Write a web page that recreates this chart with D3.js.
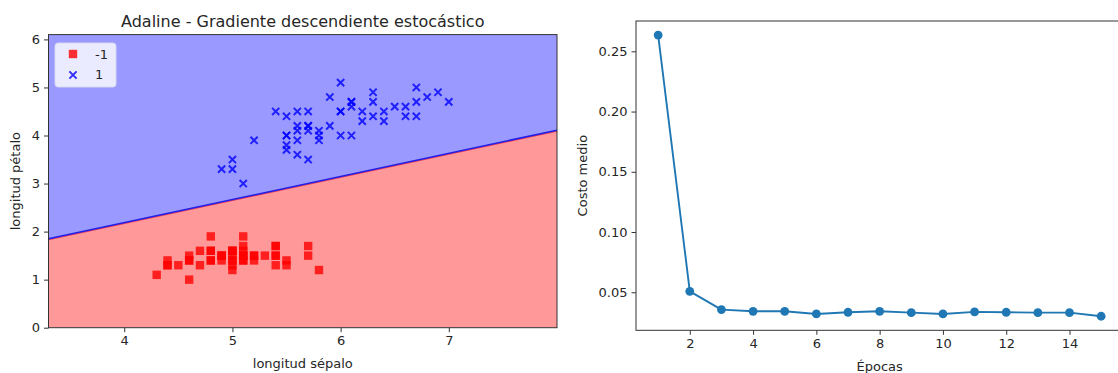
<!DOCTYPE html>
<html>
<head>
<meta charset="utf-8">
<script src="https://cdn.jsdelivr.net/npm/d3@7"></script>
<style>
  body { margin: 0; background: #fff; }
  text { font-family: "DejaVu Sans", sans-serif; fill: #262626; }
</style>
</head>
<body>
<div id="chart"></div>
<script>
// iris, first 100 rows: sepal length / petal length
const setosaSepal = [5.1, 4.9, 4.7, 4.6, 5.0, 5.4, 4.6, 5.0, 4.4, 4.9, 5.4, 4.8, 4.8, 4.3, 5.8, 5.7, 5.4, 5.1, 5.7, 5.1,
  5.4, 5.1, 4.6, 5.1, 4.8, 5.0, 5.0, 5.2, 5.2, 4.7, 4.8, 5.4, 5.2, 5.5, 4.9, 5.0, 5.5, 4.9, 4.4, 5.1,
  5.0, 4.5, 4.4, 5.0, 5.1, 4.8, 5.1, 4.6, 5.3, 5.0];
const setosaPetal = [1.4, 1.4, 1.3, 1.5, 1.4, 1.7, 1.4, 1.5, 1.4, 1.5, 1.5, 1.6, 1.4, 1.1, 1.2, 1.5, 1.3, 1.4, 1.7, 1.5,
  1.7, 1.5, 1.0, 1.7, 1.9, 1.6, 1.6, 1.5, 1.4, 1.6, 1.6, 1.5, 1.5, 1.4, 1.5, 1.2, 1.3, 1.5, 1.3, 1.5,
  1.3, 1.3, 1.3, 1.6, 1.9, 1.4, 1.6, 1.4, 1.5, 1.4];
const versiSepal = [7.0, 6.4, 6.9, 5.5, 6.5, 5.7, 6.3, 4.9, 6.6, 5.2, 5.0, 5.9, 6.0, 6.1, 5.6, 6.7, 5.6, 5.8, 6.2, 5.6,
  5.9, 6.1, 6.3, 6.1, 6.4, 6.6, 6.8, 6.7, 6.0, 5.7, 5.5, 5.5, 5.8, 6.0, 5.4, 6.0, 6.7, 6.3, 5.6, 5.5,
  5.5, 6.1, 5.8, 5.0, 5.6, 5.7, 5.7, 6.2, 5.1, 5.7];
const versiPetal = [4.7, 4.5, 4.9, 4.0, 4.6, 4.5, 4.7, 3.3, 4.6, 3.9, 3.5, 4.2, 4.0, 4.7, 3.6, 4.4, 4.5, 4.1, 4.5, 3.9,
  4.8, 4.0, 4.9, 4.7, 4.3, 4.4, 4.8, 5.0, 4.5, 3.5, 3.8, 3.7, 3.9, 5.1, 4.5, 4.5, 4.7, 4.4, 4.1, 4.0,
  4.4, 4.6, 4.0, 3.3, 4.2, 4.2, 4.2, 4.3, 3.0, 4.1];
const classLabels = ['-1', '1'];
// decision boundary: petal = b0 + b1 * sepal
const boundary = [0.263, 0.481];

const epochs = d3.range(1, 16);
const avgCost = [0.2635, 0.0508, 0.0356, 0.0342, 0.0342, 0.0320, 0.0334, 0.0342, 0.0331, 0.0320,
  0.0337, 0.0334, 0.0331, 0.0331, 0.0301];

const width = 1118, height = 373;
const svg = d3.select('#chart').append('svg')
  .attr('width', width).attr('height', height);

/* ---------- left: decision regions ---------- */
const L = { left: 48.5, right: 557, top: 34.6, bottom: 327.7 };
const x0 = d3.scaleLinear()
  .domain([d3.min(setosaSepal.concat(versiSepal)) - 1, d3.max(setosaSepal.concat(versiSepal)) + 1])
  .range([L.left, L.right]);
const y0 = d3.scaleLinear()
  .domain([d3.min(setosaPetal.concat(versiPetal)) - 1, d3.max(setosaPetal.concat(versiPetal)) + 1])
  .range([L.bottom, L.top]);

const [xa, xb] = x0.domain();
const [ya, yb] = y0.domain();
const bnd = v => boundary[0] + boundary[1] * v;

const left = svg.append('g');
left.append('defs').append('clipPath').attr('id', 'clipL')
  .append('rect').attr('x', L.left).attr('y', L.top)
  .attr('width', L.right - L.left).attr('height', L.bottom - L.top);

const regions = left.append('g').attr('clip-path', 'url(#clipL)');
const poly = d3.line().x(d => x0(d[0])).y(d => y0(d[1]));
regions.append('path')
  .attr('d', poly([[xa, yb], [xb, yb], [xb, bnd(xb)], [xa, bnd(xa)]]) + 'Z')
  .attr('fill', '#9999ff');
regions.append('path')
  .attr('d', poly([[xa, ya], [xb, ya], [xb, bnd(xb)], [xa, bnd(xa)]]) + 'Z')
  .attr('fill', '#ff9999');
regions.append('path')
  .attr('d', poly([[xa, bnd(xa)], [xb, bnd(xb)]]))
  .attr('stroke', '#e03a60').attr('stroke-width', 1.6).attr('fill', 'none')
  .attr('transform', 'translate(0,0.7)');
regions.append('path')
  .attr('d', poly([[xa, bnd(xa)], [xb, bnd(xb)]]))
  .attr('stroke', '#2020e8').attr('stroke-width', 1.5).attr('fill', 'none');

const sq = 8.4;
regions.selectAll('rect.pt').data(d3.range(setosaSepal.length)).enter()
  .append('rect').attr('class', 'pt')
  .attr('x', i => x0(setosaSepal[i]) - sq / 2)
  .attr('y', i => y0(setosaPetal[i]) - sq / 2)
  .attr('width', sq).attr('height', sq)
  .attr('fill', 'red').attr('fill-opacity', 0.8);

const xm = 3.6;
const cross = (cx, cy) => `M${cx - xm},${cy - xm}L${cx + xm},${cy + xm}M${cx - xm},${cy + xm}L${cx + xm},${cy - xm}`;
regions.selectAll('path.pt').data(d3.range(versiSepal.length)).enter()
  .append('path').attr('class', 'pt')
  .attr('d', i => cross(x0(versiSepal[i]), y0(versiPetal[i])))
  .attr('stroke', 'blue').attr('stroke-opacity', 0.8).attr('stroke-width', 2)
  .attr('fill', 'none');

const axL = left.append('g').attr('transform', `translate(0,${L.bottom})`)
  .call(d3.axisBottom(x0).tickValues([4, 5, 6, 7]).tickFormat(d3.format('d')).tickSize(4.5).tickPadding(4));
const ayL = left.append('g').attr('transform', `translate(${L.left},0)`)
  .call(d3.axisLeft(y0).tickValues([0, 1, 2, 3, 4, 5, 6]).tickFormat(d3.format('d')).tickSize(4.5).tickPadding(4));
[axL, ayL].forEach(g => {
  g.select('.domain').remove();
  g.selectAll('line').attr('stroke', '#333');
  g.selectAll('text').style('font-size', '13px');
});
left.append('rect').attr('x', L.left).attr('y', L.top)
  .attr('width', L.right - L.left).attr('height', L.bottom - L.top)
  .attr('fill', 'none').attr('stroke', '#333').attr('stroke-width', 1);

left.append('text').attr('x', (L.left + L.right) / 2).attr('y', 27)
  .attr('text-anchor', 'middle').style('font-size', '16px')
  .text('Adaline - Gradiente descendiente estocástico');
left.append('text').attr('x', (L.left + L.right) / 2).attr('y', 368)
  .attr('text-anchor', 'middle').style('font-size', '13px').text('longitud sépalo');
left.append('text').attr('transform', `translate(20,${(L.top + L.bottom) / 2}) rotate(-90)`)
  .attr('text-anchor', 'middle').style('font-size', '13px').text('longitud pétalo');

// legend
const lg = left.append('g');
lg.append('rect').attr('x', 55).attr('y', 43).attr('width', 61).attr('height', 44).attr('rx', 3)
  .attr('fill', 'white').attr('fill-opacity', 0.8).attr('stroke', '#d6d6ee');
lg.append('rect').attr('x', 73 - sq / 2).attr('y', 54 - sq / 2).attr('width', sq).attr('height', sq)
  .attr('fill', 'red').attr('fill-opacity', 0.8);
lg.append('path').attr('d', cross(73, 75)).attr('stroke', 'blue').attr('stroke-opacity', 0.8)
  .attr('stroke-width', 2).attr('fill', 'none');
lg.selectAll('text').data(classLabels).enter().append('text')
  .attr('x', 95).attr('y', (d, i) => 58.5 + i * 20.5)
  .style('font-size', '13px').text(d => d);

/* ---------- right: cost per epoch ---------- */
const R = { left: 636, right: 1123.3, top: 21, bottom: 330.3 };
const pad = (e) => { const r = e[1] - e[0]; return [e[0] - r * 0.05, e[1] + r * 0.05]; };
const x1 = d3.scaleLinear().domain(pad(d3.extent(epochs))).range([R.left, R.right]);
const y1 = d3.scaleLinear().domain(pad(d3.extent(avgCost))).range([R.bottom, R.top]);

const right = svg.append('g');
const line = d3.line().x((d, i) => x1(epochs[i])).y(d => y1(d));
right.append('path').datum(avgCost)
  .attr('d', line).attr('fill', 'none')
  .attr('stroke', '#1f77b4').attr('stroke-width', 1.9).attr('stroke-linejoin', 'round');
right.selectAll('circle').data(avgCost).enter().append('circle')
  .attr('cx', (d, i) => x1(epochs[i])).attr('cy', d => y1(d))
  .attr('r', 4.4).attr('fill', '#1f77b4');

const axR = right.append('g').attr('transform', `translate(0,${R.bottom})`)
  .call(d3.axisBottom(x1).tickValues([2, 4, 6, 8, 10, 12, 14]).tickFormat(d3.format('d')).tickSize(4.5).tickPadding(4));
const ayR = right.append('g').attr('transform', `translate(${R.left},0)`)
  .call(d3.axisLeft(y1).tickValues([0.05, 0.10, 0.15, 0.20, 0.25]).tickFormat(d3.format('.2f')).tickSize(4.5).tickPadding(4));
[axR, ayR].forEach(g => {
  g.select('.domain').remove();
  g.selectAll('line').attr('stroke', '#333');
  g.selectAll('text').style('font-size', '13px');
});
right.append('rect').attr('x', R.left).attr('y', R.top)
  .attr('width', R.right - R.left).attr('height', R.bottom - R.top)
  .attr('fill', 'none').attr('stroke', '#333').attr('stroke-width', 1);

right.append('text').attr('x', (R.left + R.right) / 2).attr('y', 371)
  .attr('text-anchor', 'middle').style('font-size', '13px').text('Épocas');
right.append('text').attr('transform', `translate(587,${(R.top + R.bottom) / 2}) rotate(-90)`)
  .attr('text-anchor', 'middle').style('font-size', '13px').text('Costo medio');
</script>
</body>
</html>
